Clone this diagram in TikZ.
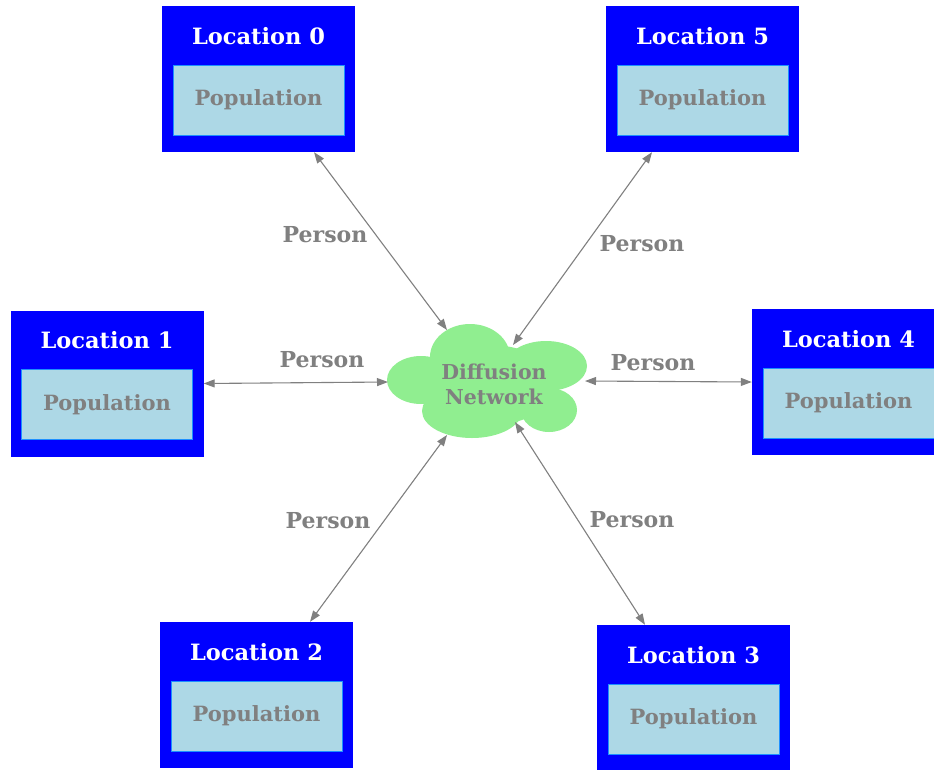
\documentclass[tikz,border=0pt]{standalone}
\usepackage{fontspec}
\setmainfont{DejaVu Serif}
\usetikzlibrary{arrows.meta,calc}
\definecolor{locblue}{RGB}{0,0,255}
\definecolor{popfill}{RGB}{173,216,230}
\definecolor{popedge}{RGB}{30,144,255}
\definecolor{txtgray}{RGB}{128,128,128}
\definecolor{cloudgreen}{RGB}{144,238,144}
\tikzset{
  locbox/.style={fill=locblue, draw=none, minimum width=193pt, minimum height=146pt, inner sep=0pt},
  loctitle/.style={text=white, font=\bfseries\fontsize{22.5}{26}\selectfont, inner sep=0pt},
  popbox/.style={fill=popfill, draw=popedge, line width=1pt, minimum width=171pt, minimum height=70pt,
    inner sep=0pt, text=txtgray, font=\bfseries\fontsize{21}{25}\selectfont},
  edgelabel/.style={text=txtgray, font=\bfseries\fontsize{22}{26}\selectfont, inner sep=0pt},
  cloudtext/.style={text=txtgray, font=\bfseries\fontsize{20.5}{25}\selectfont, align=center, inner sep=0pt},
  link/.style={draw=txtgray, line width=1.1pt, {Triangle[length=11pt,width=8pt]}-{Triangle[length=11pt,width=8pt]}},
}
\begin{document}
\begin{tikzpicture}[x=1pt,y=-1pt]
  \path[use as bounding box] (0,0) rectangle (934,769);
  \clip (0,0) rectangle (934,769);
  \fill[white] (0,0) rectangle (934,769);

  % location boxes, each with its title and population block
  \foreach \n/\cx/\cy in {0/258.5/79, 5/702.5/79, 1/107/383.5, 4/848.5/382, 2/256.5/695, 3/693.5/698}{
    \node[locbox] (loc\n) at (\cx,\cy) {};
    \node[loctitle] (title\n) at ([yshift=43pt]loc\n.center) {Location \n};
    \node[popbox] (pop\n) at ([yshift=-21pt]loc\n.center) {Population};
  }

  % diffusion network cloud, built from overlapping lobes
  \begin{scope}
    \fill[cloudgreen] (421,380) ellipse [x radius=34, y radius=24];
    \fill[cloudgreen] (470,357) ellipse [x radius=40, y radius=33];
    \fill[cloudgreen] (546,366) ellipse [x radius=41, y radius=25];
    \fill[cloudgreen] (549,410) ellipse [x radius=28, y radius=22];
    \fill[cloudgreen] (472,411) ellipse [x radius=50, y radius=27];
    \fill[cloudgreen] (490,385) ellipse [x radius=66, y radius=40];
  \end{scope}
  \node[cloudtext] (cloud) at (494,384) {Diffusion\\Network};

  % attachment points on the cloud outline
  \coordinate (c0) at (447,330);
  \coordinate (c5) at (513,345);
  \coordinate (c1) at (388,382);
  \coordinate (c4) at (585,381);
  \coordinate (c2) at (447,435);
  \coordinate (c3) at (515,422);

  % person flows
  \draw[link] ([xshift=55.5pt]loc0.south) -- (c0);
  \draw[link] ([xshift=-50.5pt]loc5.south) -- (c5);
  \draw[link] (loc1.east) -- (c1);
  \draw[link] (c4) -- (loc4.west);
  \draw[link] ([xshift=53.5pt]loc2.north) -- (c2);
  \draw[link] ([xshift=-48.5pt]loc3.north) -- (c3);

  \node[edgelabel] (p0) at (325,235) {Person};
  \node[edgelabel] (p5) at (642,244) {Person};
  \node[edgelabel] (p1) at (322,360) {Person};
  \node[edgelabel] (p4) at (653,363) {Person};
  \node[edgelabel] (p2) at (328,521) {Person};
  \node[edgelabel] (p3) at (632,520) {Person};
\end{tikzpicture}
\end{document}
